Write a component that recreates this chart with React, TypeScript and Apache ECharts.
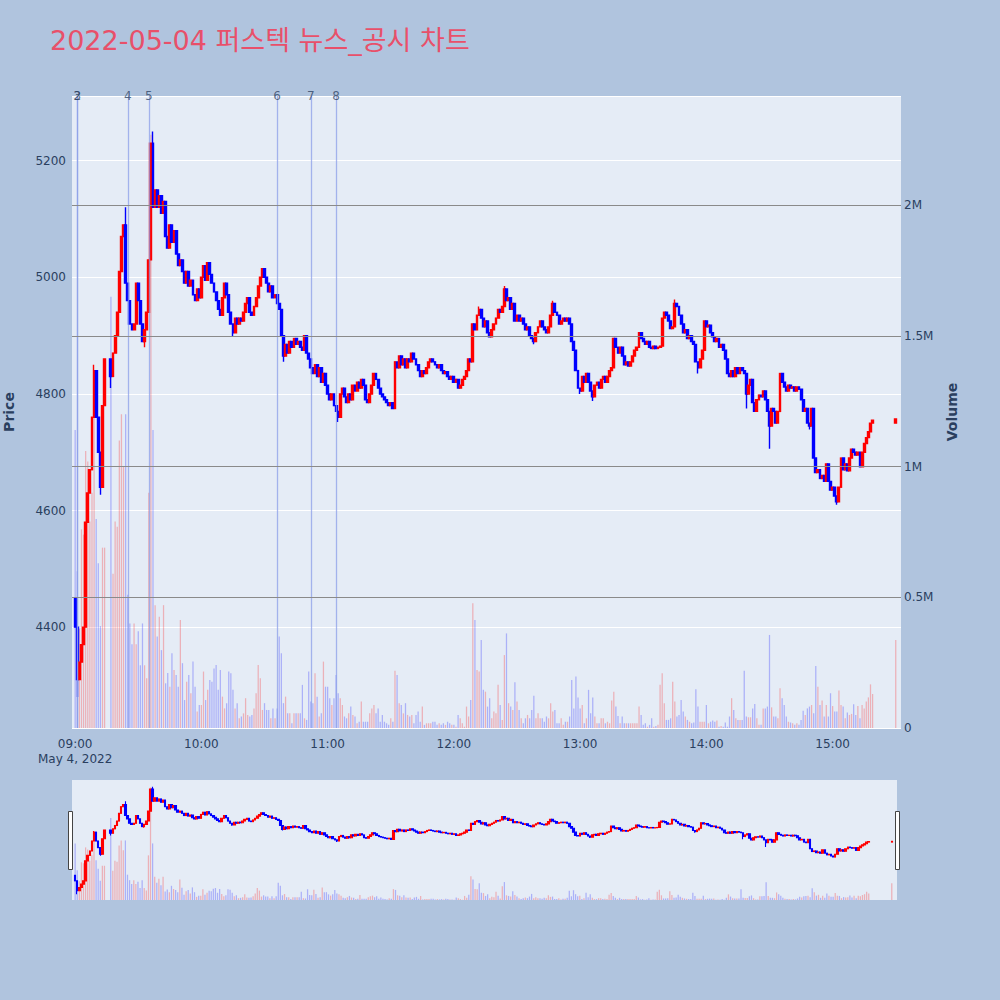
import React, { useEffect, useRef } from "react";
import * as echarts from "echarts";

const TITLE = "2022-05-04 퍼스텍 뉴스_공시 차트";
const DATE_LABEL = "May 4, 2022";
const FIRST_OPEN = 4450;

// minute closes from 09:00 (index = minutes after 09:00); null = halted minute
const closes: (number | null)[] = [
  4400, 4310, 4340, 4370, 4400, 4580, 4630, 4670, 4760, 4840,
  4760, 4700, 4640, 4780, 4860, null, null, 4830, 4870, 4900,
  4940, 5010, 5070, 5090, 4990, 4960, 4920, 4910, 4920, 4990,
  4960, 4920, 4890, 4910, 4940, 5030, 5230, 5120, 5150, 5120,
  5140, 5110, 5130, 5070, 5050, 5090, 5060, 5080, 5040, 5020,
  5030, 5010, 4990, 5010, 4985, 4995, 4970, 4960, 4980, 4965,
  5000, 5020, 4995, 5025, 5005, 4990, 4975, 4960, 4945, 4935,
  4965, 4990, 4970, 4940, 4920, 4905, 4930, 4920, 4930, 4925,
  4940, 4955, 4965, 4940, 4935, 4950, 4965, 4985, 5000, 5015,
  5000, 4990, 4975, 4985, 4965, 4970, 4955, 4945, 4900, 4865,
  4885, 4870, 4890, 4880, 4895, 4885, 4890, 4880, 4875, 4900,
  4870, 4860, 4845, 4835, 4850, 4830, 4845, 4820, 4835, 4815,
  4800, 4790, 4800, 4780, 4770, 4760, 4800, 4810, 4795, 4785,
  4800, 4790, 4815, 4805, 4820, 4810, 4825, 4815, 4790, 4785,
  4800, 4815, 4835, 4825, 4810, 4800, 4795, 4790, 4785, 4780,
  4785, 4775, 4855, 4845, 4865, 4850, 4860, 4845, 4860, 4855,
  4870, 4860, 4850, 4840, 4830, 4840, 4835, 4845, 4855, 4860,
  4855, 4850, 4845, 4850, 4840, 4835, 4838, 4830, 4825, 4830,
  4820, 4825, 4810, 4815, 4825, 4830, 4840, 4860, 4855, 4920,
  4910, 4935, 4945, 4930, 4915, 4925, 4905, 4898, 4910, 4920,
  4930, 4945, 4940, 4950, 4980, 4960, 4965, 4945, 4955, 4925,
  4935, 4925, 4930, 4920, 4910, 4915, 4900, 4895, 4890, 4905,
  4915, 4925, 4915, 4910, 4905, 4915, 4935, 4955, 4940, 4935,
  4920, 4925, 4930, 4925, 4930, 4920, 4890, 4875, 4840, 4810,
  4805, 4830, 4820, 4835, 4820, 4805, 4795, 4815, 4820, 4810,
  4825, 4830, 4820, 4830, 4840, 4845, 4895, 4880, 4870, 4880,
  4865, 4850, 4855, 4848, 4855, 4865, 4875, 4880, 4905, 4895,
  4890, 4885, 4890, 4880, 4878, 4882, 4878, 4880, 4882, 4930,
  4940, 4935, 4925, 4912, 4915, 4955, 4950, 4935, 4920, 4905,
  4910, 4895, 4900, 4890, 4885, 4855, 4845, 4860, 4875, 4925,
  4915, 4918, 4905, 4898, 4890, 4895, 4880, 4885, 4875, 4860,
  4835, 4830, 4840, 4830, 4845, 4835, 4845, 4840, 4835, 4800,
  4815, 4825, 4785, 4770, 4790, 4798, 4795, 4805, 4790, 4770,
  4745, 4775, 4770, 4750, 4770, 4835, 4820, 4812, 4805, 4815,
  4810, 4812, 4805, 4812, 4808, 4790, 4770, 4775, 4750, 4745,
  4775, 4690, 4665, 4670, 4655, 4660, 4650, 4680, 4650, 4635,
  4640, 4625, 4615, 4640, 4690, 4670, 4680, 4668, 4690, 4705,
  4700, 4695, 4700, 4675, 4700, 4715, 4725, 4735, 4750, 4755,
];

// wick extremes beyond the candle bodies (minute index -> price)
const wickHighs: Record<number, number> = {
  9: 4850, 24: 5120, 37: 5250, 192: 4950, 204: 4985, 227: 4960, 285: 4962,
};
const wickLows: Record<number, number> = {
  1: 4280, 12: 4627, 17: 4810, 33: 4880, 75: 4898, 99: 4855, 125: 4752,
  218: 4885, 240: 4800, 246: 4788, 296: 4835, 319: 4775, 330: 4706,
  349: 4739, 362: 4610,
};

// minute volumes in thousands of shares
const volumesK: (number | null)[] = [
  1140, 600, 380, 760, 740, 1060, 1020, 790, 900, 1360,
  800, 630, 390, 690, 690, null, null, 1650, 590, 790,
  770, 1100, 1200, 1000, 1200, 510, 400, 320, 400, 320,
  370, 240, 400, 240, 190, 900, 2270, 1140, 470, 350,
  426, 298, 470, 171, 210, 158, 286, 222, 203, 158,
  413, 248, 107, 177, 203, 133, 254, 158, 63, 88,
  88, 216, 107, 146, 184, 177, 228, 241, 146, 222,
  120, 75, 95, 216, 209, 146, 75, 95, 37, 44,
  56, 114, 50, 44, 50, 75, 133, 241, 190, 69,
  95, 69, 69, 37, 75, 37, 75, 350, 286, 95,
  120, 56, 56, 18, 56, 56, 56, 56, 165, 37,
  31, 216, 101, 95, 209, 120, 44, 56, 254, 158,
  158, 114, 88, 114, 203, 133, 114, 88, 44, 37,
  56, 82, 50, 44, 18, 24, 101, 24, 24, 24,
  56, 75, 88, 56, 75, 24, 50, 24, 18, 12,
  37, 24, 219, 203, 95, 88, 56, 95, 50, 44,
  50, 18, 50, 63, 24, 82, 12, 18, 18, 18,
  24, 24, 12, 18, 12, 18, 12, 24, 18, 12,
  12, 5, 50, 37, 18, 5, 82, 44, 107, 477,
  413, 222, 216, 337, 146, 139, 82, 114, 37, 63,
  56, 165, 88, 31, 279, 362, 95, 82, 69, 175,
  101, 69, 37, 18, 37, 50, 37, 69, 123, 37,
  56, 37, 37, 24, 44, 37, 95, 63, 69, 18,
  18, 37, 12, 24, 24, 44, 184, 75, 197, 117,
  75, 88, 18, 37, 146, 56, 117, 44, 18, 18,
  37, 37, 18, 24, 18, 105, 139, 82, 46, 18,
  44, 18, 18, 18, 18, 18, 18, 18, 82, 50,
  12, 18, 5, 12, 37, 5, 8, 12, 165, 209,
  95, 31, 31, 37, 177, 101, 44, 50, 107, 63,
  44, 31, 24, 18, 21, 148, 82, 24, 24, 24,
  88, 18, 24, 29, 24, 29, 5, 8, 5, 21,
  5, 44, 114, 69, 37, 31, 31, 31, 219, 44,
  41, 41, 75, 92, 37, 12, 12, 75, 75, 82,
  356, 79, 44, 44, 37, 152, 114, 88, 44, 24,
  21, 18, 12, 18, 12, 31, 66, 50, 75, 82,
  88, 56, 237, 158, 88, 105, 44, 88, 44, 133,
  84, 63, 63, 143, 88, 82, 37, 59, 50, 54,
  91, 50, 84, 37, 88, 75, 101, 117, 167, 130,
];

// closing auction print
const auctionTime = "15:30";
const auctionOpen = 4750;
const auctionClose = 4757;
const auctionVolumeK = 337;

// news / disclosure markers
const eventLabels = ["2", "3", "4", "5", "6", "7", "8"];
const eventTimes = ["09:01", "09:01", "09:25", "09:35", "10:36", "10:52", "11:04"];

const volumeGridValues = [500000, 1000000, 1500000, 2000000];
const PRICE_MIN = 4227;
const PRICE_MAX = 5311;
const VOLUME_MAX = 2418000;

const hhmm = (t: number) =>
  `${String(Math.floor(t / 60)).padStart(2, "0")}:${String(t % 60).padStart(2, "0")}`;

const SESSION_START = 9 * 60;
const AXIS_FROM = SESSION_START - 1;
const AXIS_TO = 15 * 60 + 32;

const FONT = "'DejaVu Sans', 'Noto Sans CJK KR', sans-serif";
const INK = "#2a3f5f";
const UP = "#ff0000";
const DOWN = "#0000ff";
const UP_VOL = "rgba(255,0,0,0.25)";
const DOWN_VOL = "rgba(0,0,255,0.25)";

function buildData() {
  const categories: string[] = [];
  for (let t = AXIS_FROM; t <= AXIS_TO; t++) categories.push(hhmm(t));
  const candles: any[] = categories.map(() => "-");
  const vols: any[] = categories.map(() => "-");
  let prev = FIRST_OPEN;
  closes.forEach((c, i) => {
    const idx = SESSION_START + i - AXIS_FROM;
    if (c == null) return;
    const o = prev;
    const hi = Math.max(o, c, wickHighs[i] ?? -Infinity);
    const lo = Math.min(o, c, wickLows[i] ?? Infinity);
    candles[idx] = [o, c, lo, hi];
    const v = volumesK[i];
    if (v != null) {
      vols[idx] = { value: v * 1000, itemStyle: { color: c >= o ? UP_VOL : DOWN_VOL } };
    }
    prev = c;
  });
  const aIdx = categories.indexOf(auctionTime);
  candles[aIdx] = [auctionOpen, auctionClose, Math.min(auctionOpen, auctionClose), Math.max(auctionOpen, auctionClose)];
  vols[aIdx] = {
    value: auctionVolumeK * 1000,
    itemStyle: { color: auctionClose >= auctionOpen ? UP_VOL : DOWN_VOL },
  };
  return { categories, candles, vols };
}

export default function App() {
  const ref = useRef<HTMLDivElement>(null);
  useEffect(() => {
    if (!ref.current) return;
    const chart = echarts.init(ref.current, undefined, { renderer: "svg" });
    const { categories, candles, vols } = buildData();
    const isHour = (i: number) => {
      const t = AXIS_FROM + i;
      return t >= SESSION_START && t <= 15 * 60 && t % 60 === 0;
    };
    const candleStyle = (w: number) => ({
      color: UP,
      color0: DOWN,
      borderColor: UP,
      borderColor0: DOWN,
      borderWidth: w,
    });
    const option: any = {
      animation: false,
      backgroundColor: "#b0c4de",
      textStyle: { fontFamily: FONT },
      title: {
        text: TITLE,
        left: 50,
        top: 27,
        padding: 0,
        textStyle: { fontFamily: FONT, fontSize: 27, fontWeight: "normal", color: "#e8506a" },
      },
      grid: [
        { left: 72, right: 99, top: 96, bottom: 272, show: true, backgroundColor: "#e5ecf6", borderWidth: 0, outerBoundsMode: "none" },
        { left: 72, right: 103, top: 780, bottom: 100, show: true, backgroundColor: "#e5ecf6", borderWidth: 0, outerBoundsMode: "none" },
      ],
      xAxis: [
        {
          type: "category",
          gridIndex: 0,
          data: categories,
          boundaryGap: true,
          axisLine: { show: false },
          axisTick: { show: false },
          splitLine: { show: false },
          axisLabel: {
            interval: (i: number) => isHour(i),
            formatter: (v: string) => (v === "09:00" ? `${v}\n${DATE_LABEL}` : v),
            color: INK,
            fontSize: 12,
            fontFamily: FONT,
            margin: 8,
            lineHeight: 15,
          },
        },
        {
          type: "category",
          gridIndex: 1,
          data: categories,
          boundaryGap: true,
          show: false,
        },
      ],
      yAxis: [
        {
          type: "value",
          gridIndex: 0,
          position: "left",
          min: PRICE_MIN,
          max: PRICE_MAX,
          splitNumber: 5,
          name: "Price",
          nameLocation: "middle",
          nameRotate: 90,
          nameGap: 56,
          nameTextStyle: { color: INK, fontSize: 14, fontWeight: "bold", fontFamily: FONT },
          axisLine: { show: false },
          axisTick: { show: false },
          axisLabel: {
            color: INK,
            fontSize: 12,
            fontFamily: FONT,
            margin: 6,
            showMinLabel: false,
            showMaxLabel: false,
            formatter: (v: number) => (v % 200 === 0 ? String(v) : ""),
          },
          splitLine: { show: true, lineStyle: { color: "#ffffff", width: 1 } },
        },
        {
          type: "value",
          gridIndex: 0,
          position: "right",
          min: 0,
          max: VOLUME_MAX,
          splitNumber: 5,
          name: "Volume",
          nameLocation: "middle",
          nameRotate: 90,
          nameGap: 44,
          nameTextStyle: { color: INK, fontSize: 14, fontWeight: "bold", fontFamily: FONT },
          axisLine: { show: false },
          axisTick: { show: false },
          splitLine: { show: false },
          axisLabel: {
            color: INK,
            fontSize: 12,
            fontFamily: FONT,
            margin: 3,
            formatter: (v: number) =>
              v === 0 ? "0" : v % 500000 === 0 ? `${v / 1000000}M` : "",
          },
        },
        { type: "value", gridIndex: 1, min: PRICE_MIN, max: PRICE_MAX, show: false, splitLine: { show: false } },
        { type: "value", gridIndex: 1, min: 0, max: VOLUME_MAX, show: false, splitLine: { show: false } },
      ],
      series: [
        {
          type: "bar",
          xAxisIndex: 0,
          yAxisIndex: 1,
          data: vols,
          barWidth: "60%",
          silent: true,
          markLine: {
            silent: true,
            symbol: ["none", "none"],
            animation: false,
            data: [
              ...eventTimes.map((t, k) => ({
                xAxis: t,
                lineStyle: { color: "#8b9fe8", width: 1.3, type: "solid", opacity: 0.75 },
                label: {
                  show: true,
                  position: "end",
                  formatter: eventLabels[k],
                  color: INK,
                  fontSize: 12,
                  fontFamily: FONT,
                  distance: -6,
                },
              })),
              ...volumeGridValues.map((v) => ({
                yAxis: v,
                lineStyle: { color: "#8a8a8a", width: 1, type: "solid", opacity: 1 },
                label: { show: false },
              })),
            ],
          },
        },
        {
          type: "candlestick",
          xAxisIndex: 0,
          yAxisIndex: 0,
          data: candles,
          barWidth: 2.4,
          silent: true,
          itemStyle: candleStyle(1.4),
        },
        {
          type: "bar",
          xAxisIndex: 1,
          yAxisIndex: 3,
          data: vols,
          barWidth: "60%",
          silent: true,
        },
        {
          type: "candlestick",
          xAxisIndex: 1,
          yAxisIndex: 2,
          data: candles,
          barWidth: 2,
          silent: true,
          itemStyle: candleStyle(1.1),
        },
      ],
      graphic: [
        { type: "rect", shape: { x: 68.5, y: 811.5, width: 4, height: 58 }, style: { fill: "#ffffff", stroke: "#444444", lineWidth: 1 } },
        { type: "rect", shape: { x: 895.5, y: 811.5, width: 4, height: 58 }, style: { fill: "#ffffff", stroke: "#444444", lineWidth: 1 } },
      ],
    };
    chart.setOption(option);
    return () => chart.dispose();
  }, []);
  return (
    <div
      ref={ref}
      style={{ position: "absolute", left: 0, top: 0, width: 1000, height: 1000 }}
    />
  );
}
